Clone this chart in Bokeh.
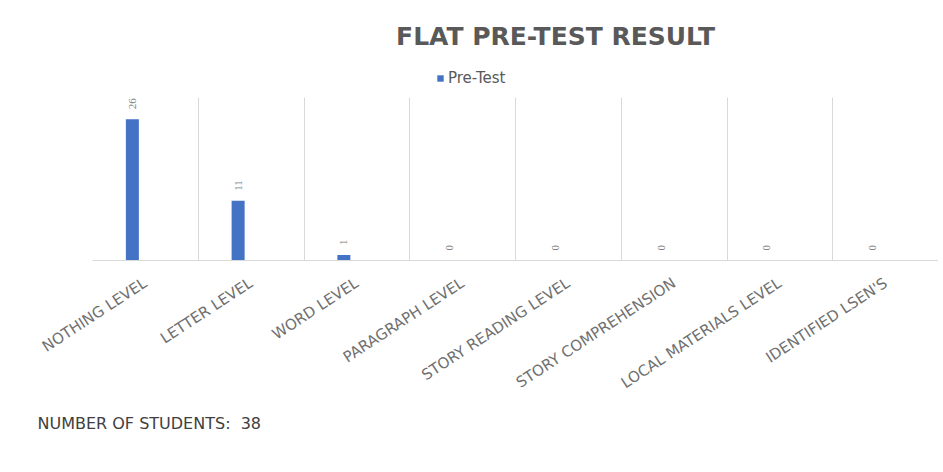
import math
from bokeh.plotting import figure
from bokeh.models import (Range1d, FixedTicker, LabelSet, Label, Legend, LegendItem,
                          ColumnDataSource, Title, BoxAnnotation)
from bokeh.embed import file_html
from bokeh.resources import INLINE

categories = ["NOTHING LEVEL", "LETTER LEVEL", "WORD LEVEL", "PARAGRAPH LEVEL",
              "STORY READING LEVEL", "STORY COMPREHENSION", "LOCAL MATERIALS LEVEL",
              "IDENTIFIED LSEN'S"]
pre_test = [26, 11, 1, 0, 0, 0, 0, 0]
series_name = "Pre-Test"
title_text = "FLAT PRE-TEST RESULT"
note_text = "NUMBER OF STUDENTS:\u00a0 38"

y_max = 30
idx = list(range(len(categories)))
bar_shift = -0.123
bar_w = 0.123
src = ColumnDataSource(dict(
    x=[i + 0.5 + bar_shift for i in idx],
    y=pre_test,
    label=[str(v) for v in pre_test],
))

# frame spans the header area too; the part above y_max is masked white
p = figure(width=938, height=465, x_range=Range1d(0, len(categories)),
           y_range=Range1d(0, y_max * 260 / 163),
           output_backend="svg", toolbar_location=None,
           min_border_left=92, min_border_right=0, min_border_top=0, min_border_bottom=205)
p.outline_line_color = None
p.background_fill_color = "white"
p.border_fill_color = "white"

p.yaxis.visible = False
p.ygrid.visible = False
p.xgrid.ticker = FixedTicker(ticks=list(range(len(categories) + 1)))
p.xgrid.grid_line_color = "#d9d9d9"

mask = BoxAnnotation(bottom=y_max, fill_color="white", fill_alpha=1.0, line_color=None)
p.add_layout(mask)

bars = p.vbar(x="x", top="y", bottom=0, width=bar_w, source=src,
              fill_color="#4472C4", line_color=None)

labels = LabelSet(x="x", y="y", text="label", source=src, angle=math.pi / 2,
                  text_align="left", text_baseline="middle", y_offset=10,
                  text_font="DejaVu Sans", text_font_size="11px", text_color="#7f7f7f")
p.add_layout(labels)

p.xaxis.ticker = FixedTicker(ticks=[i + 0.5 for i in idx])
p.xaxis.major_label_overrides = {i + 0.5: c for i, c in zip(idx, categories)}
p.xaxis.major_label_orientation = 0.58
p.xaxis.major_label_standoff = 15
p.xaxis.major_label_text_font = "DejaVu Sans"
p.xaxis.major_label_text_font_size = "15px"
p.xaxis.major_label_text_color = "#707070"
p.xaxis.axis_line_color = "#d9d9d9"
p.xaxis.major_tick_line_color = None
p.xaxis.minor_tick_line_color = None

title = Label(x=463, y=224, x_units="screen", y_units="screen", text=title_text,
              text_align="center", text_baseline="middle", text_font="DejaVu Sans",
              text_font_style="bold", text_font_size="25px", text_color="#595959")
p.add_layout(title)

legend = Legend(items=[LegendItem(label=series_name, renderers=[bars])],
                location=(344, 173), orientation="horizontal",
                border_line_color=None, background_fill_alpha=0,
                glyph_width=8, glyph_height=8, label_height=14, label_standoff=4,
                label_text_font="DejaVu Sans", label_text_font_size="15px",
                label_text_color="#595959", padding=0, margin=0)
p.add_layout(legend)

note = Title(text=note_text, align="left", offset=-55, standoff=18,
             text_font="DejaVu Sans", text_font_size="16px", text_font_style="normal",
             text_color="#404040")
p.add_layout(note, "below")

open("out.html", "w").write(file_html(p, INLINE))
